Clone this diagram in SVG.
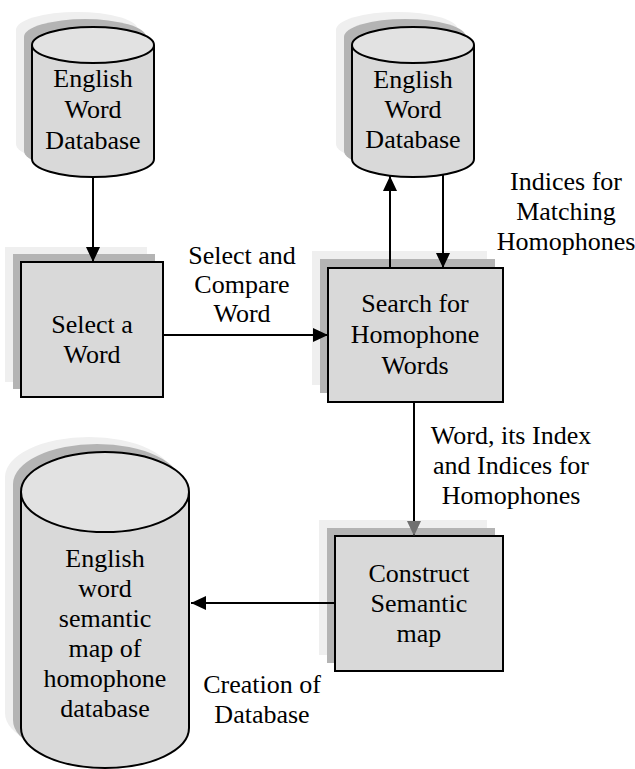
<svg xmlns="http://www.w3.org/2000/svg" width="635" height="769" viewBox="0 0 635 769">
<style>
.main{fill:#d9d9d9;stroke:#000;stroke-width:2}
.top{fill:#e2e2e2;stroke:#000;stroke-width:2}
.sh1{fill:#b4b4b4}
.sh2{fill:#efefef}
.t{font-family:"Liberation Serif","Times New Roman",serif;font-size:26px;fill:#000;text-anchor:middle}
.c{stroke:#000;stroke-width:2;fill:none}
</style>
<defs>
<marker id="ah" markerUnits="userSpaceOnUse" markerWidth="16" markerHeight="16" viewBox="0 0 16 16" refX="15" refY="8" orient="auto"><path d="M0,1 L15,8 L0,15 Z" fill="#000"/></marker>
<marker id="ahg" markerUnits="userSpaceOnUse" markerWidth="16" markerHeight="16" viewBox="0 0 16 16" refX="15" refY="8" orient="auto"><path d="M0,1 L15,8 L0,15 Z" fill="#707070"/></marker>
</defs>
<rect width="635" height="769" fill="#fff"/>

<g id="db1">
<path class="sh2" d="M16,30 L16,144 A61 18 0 0 0 138,144 L138,30 A61 18 0 0 0 16,30 Z"/>
<path class="sh1" d="M24,37 L24,151 A61 18 0 0 0 146,151 L146,37 A61 18 0 0 0 24,37 Z"/>
<path class="main" d="M32,45 L32,159 A61 18 0 0 0 154,159 L154,45"/>
<ellipse class="top" cx="93" cy="45" rx="61" ry="18"/>
<text class="t" x="93" y="87">English</text>
<text class="t" x="93" y="118">Word</text>
<text class="t" x="93" y="149">Database</text>
</g>

<g id="db2">
<path class="sh2" d="M336,30 L336,144 A61 18 0 0 0 458,144 L458,30 A61 18 0 0 0 336,30 Z"/>
<path class="sh1" d="M344,37 L344,151 A61 18 0 0 0 466,151 L466,37 A61 18 0 0 0 344,37 Z"/>
<path class="main" d="M352,45 L352,159 A61 18 0 0 0 474,159 L474,45"/>
<ellipse class="top" cx="413" cy="45" rx="61" ry="18"/>
<text class="t" x="413" y="88">English</text>
<text class="t" x="413" y="118">Word</text>
<text class="t" x="413" y="148">Database</text>
</g>

<g id="select">
<rect class="sh2" x="5" y="247" width="142" height="135"/>
<rect class="sh1" x="13" y="254" width="142" height="135"/>
<rect class="main" x="21" y="262" width="142" height="135"/>
<text class="t" x="92" y="333">Select a</text>
<text class="t" x="92" y="363">Word</text>
</g>

<g id="search">
<rect class="sh2" x="312" y="251" width="175" height="134"/>
<rect class="sh1" x="320" y="259" width="175" height="134"/>
<rect class="main" x="328" y="268" width="175" height="134"/>
<text class="t" x="415" y="312">Search for</text>
<text class="t" x="415" y="343">Homophone</text>
<text class="t" x="415" y="374">Words</text>
</g>

<g id="construct">
<rect class="sh2" x="319" y="520" width="168" height="135"/>
<rect class="sh1" x="327" y="528" width="168" height="135"/>
<rect class="main" x="335" y="536" width="168" height="135"/>
<text class="t" x="419" y="582">Construct</text>
<text class="t" x="419" y="612">Semantic</text>
<text class="t" x="419" y="642">map</text>
</g>

<g id="db3">
<path class="sh2" d="M5,477 L5,713 A84 40 0 0 0 173,713 L173,477 A84 40 0 0 0 5,477 Z"/>
<path class="sh1" d="M13,484 L13,720 A84 40 0 0 0 181,720 L181,484 A84 40 0 0 0 13,484 Z"/>
<path class="main" d="M21,492 L21,728 A84 40 0 0 0 189,728 L189,492"/>
<ellipse class="top" cx="105" cy="492" rx="84" ry="40"/>
<text class="t" x="105" y="567">English</text>
<text class="t" x="105" y="597">word</text>
<text class="t" x="105" y="627">semantic</text>
<text class="t" x="105" y="657">map of</text>
<text class="t" x="105" y="687">homophone</text>
<text class="t" x="105" y="717">database</text>
</g>

<g id="connectors">
<line class="c" x1="93" y1="177" x2="93" y2="262" marker-end="url(#ah)"/>
<line class="c" x1="163" y1="335" x2="328" y2="335" marker-end="url(#ah)"/>
<line class="c" x1="390" y1="268" x2="390" y2="176" marker-end="url(#ah)"/>
<line class="c" x1="443" y1="174" x2="443" y2="268" marker-end="url(#ah)"/>
<line class="c" x1="414" y1="402" x2="414" y2="536" marker-end="url(#ahg)"/>
<line class="c" x1="335" y1="603" x2="191" y2="603" marker-end="url(#ah)"/>
</g>

<g id="labels">
<text class="t" x="242" y="264">Select and</text>
<text class="t" x="242" y="293">Compare</text>
<text class="t" x="242" y="322">Word</text>
<text class="t" x="566" y="190">Indices for</text>
<text class="t" x="566" y="220">Matching</text>
<text class="t" x="566" y="250">Homophones</text>
<text class="t" x="511" y="444">Word, its Index</text>
<text class="t" x="511" y="474">and Indices for</text>
<text class="t" x="511" y="504">Homophones</text>
<text class="t" x="262" y="693">Creation of</text>
<text class="t" x="262" y="723">Database</text>
</g>
</svg>
